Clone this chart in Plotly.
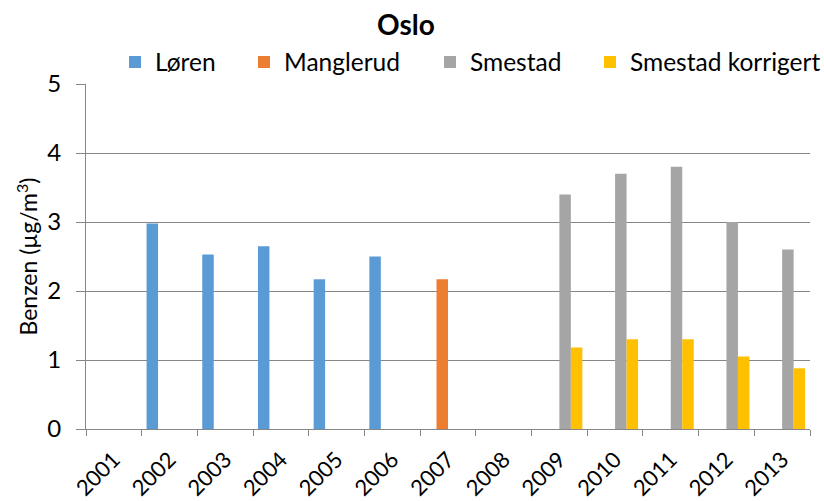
import plotly.graph_objects as go

years = ["2001", "2002", "2003", "2004", "2005", "2006", "2007",
         "2008", "2009", "2010", "2011", "2012", "2013"]
loren = [None, 2.98, 2.53, 2.65, 2.17, 2.50, None, None, None, None, None, None, None]
manglerud = [None, None, None, None, None, None, 2.17, None, None, None, None, None, None]
smestad = [None, None, None, None, None, None, None, None, 3.4, 3.7, 3.8, 3.0, 2.6]
smestad_korr = [None, None, None, None, None, None, None, None, 1.18, 1.30, 1.30, 1.05, 0.88]

series = [
    ("Løren", loren, "#5B9BD5"),
    ("Manglerud", manglerud, "#ED7D31"),
    ("Smestad", smestad, "#A5A5A5"),
    ("Smestad korrigert", smestad_korr, "#FFC000"),
]
legend_ids = ["legend", "legend2", "legend3", "legend4"]
legend_x = [129, 258, 444, 604]  # left edge of each legend swatch, px

font = "Lato, 'Noto Sans', sans-serif"
W, H = 824, 501
L, R, T, B = 86, 14, 84, 72

fig = go.Figure()
for (name, vals, col), lid in zip(series, legend_ids):
    fig.add_trace(go.Bar(x=years, y=vals, name=name, marker_color=col,
                         marker_line_width=0, legend=lid))

layout_legends = {}
for lid, lx in zip(legend_ids, legend_x):
    layout_legends[lid] = dict(
        xref="container", yref="container",
        x=(lx - 14) / W, xanchor="left",
        y=1 - 62 / H, yanchor="middle",
        font=dict(size=24.5, family=font, color="black"),
        itemwidth=30, borderwidth=0, bgcolor="rgba(0,0,0,0)",
    )

fig.update_layout(
    width=W, height=H,
    margin=dict(l=L, r=R, t=T, b=B, autoexpand=False),
    paper_bgcolor="white", plot_bgcolor="white",
    barmode="group", bargap=0.175, bargroupgap=0,
    font=dict(family=font, size=22, color="black"),
    title=dict(text="<b>Oslo</b>", x=406 / W, xanchor="center",
               y=1 - 25 / H, yanchor="middle",
               font=dict(size=28, family=font, color="black")),
    showlegend=True,
    **layout_legends,
)
fig.add_annotation(
    text="Benzen (µg/m<sup>3</sup>)", textangle=-90,
    xref="paper", yref="paper",
    x=(27 - L) / (W - L - R), y=0.5, xanchor="center", yanchor="middle",
    showarrow=False, font=dict(size=23, family=font, color="black"),
)
fig.update_xaxes(type="category", categoryorder="array", categoryarray=years,
                 tickangle=-45, showline=True, linecolor="#868686", linewidth=1,
                 ticks="outside", tickson="boundaries", ticklen=6, tickcolor="#868686",
                 showgrid=False, automargin=False, ticklabelstandoff=8,
                 tickfont=dict(size=22, family=font))
fig.update_yaxes(range=[0, 5], dtick=1, showgrid=True, gridcolor="#868686", gridwidth=1,
                 showline=True, linecolor="#868686", linewidth=1,
                 ticks="outside", ticklen=9, tickcolor="#868686",
                 zeroline=False, automargin=False, ticklabelstandoff=10,
                 tickfont=dict(size=24, family=font))

fig.write_html("out.html", config={"displayModeBar": False},
               post_script="document.body.style.margin='0';")
